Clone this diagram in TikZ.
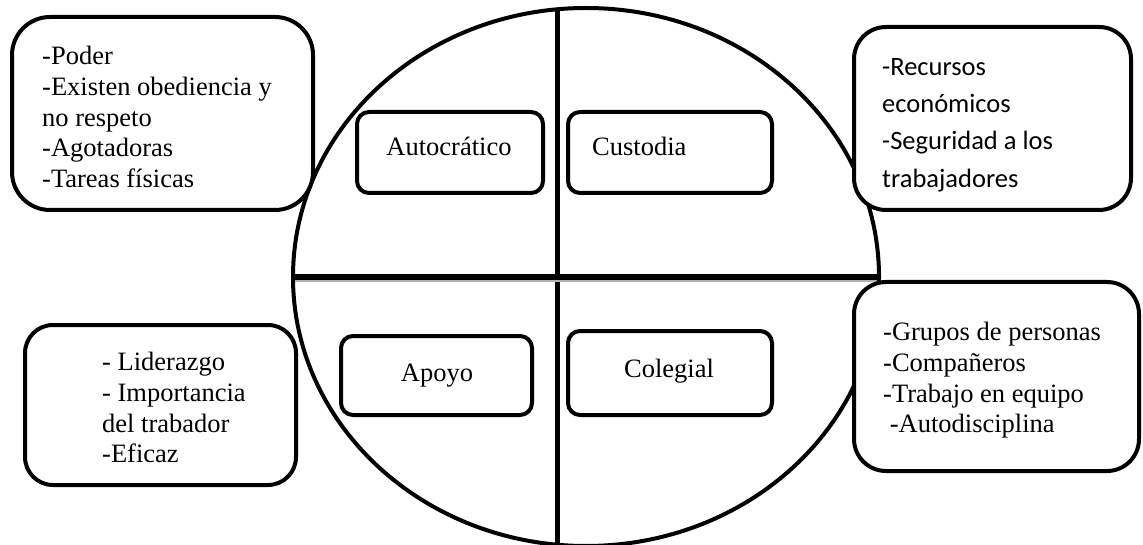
\documentclass[tikz,border=0pt]{standalone}
\usepackage{fontspec}
\setmainfont{Liberation Serif}
\newfontfamily\calibrifont{Carlito}
\usetikzlibrary{shapes.geometric}
\tikzset{
  bigbox/.style={draw, line width=4pt, fill=white, rounded corners=#1, inner sep=0pt},
  bigbox/.default=32pt,
  inbox/.style={draw, line width=4pt, fill=white, rounded corners=12pt, inner sep=0pt},
  txt/.style={inner sep=0pt, align=left, anchor=north west, font=\fontsize{26.5}{30.8}\selectfont},
  ctxt/.style={inner sep=0pt, anchor=base, font=\fontsize{26.5}{30.8}\selectfont},
  divider/.style={line width=#1},
}
\begin{document}
\begin{tikzpicture}[x=1pt,y=-1pt]
\useasboundingbox (0,0) rectangle (1143,545);
% circle and dividers
\node[ellipse, draw, line width=4pt, minimum width=586pt, minimum height=538pt, inner sep=0pt] (circ) at (586,277) {};
\coordinate (vtop) at (557,10);
\coordinate (vbot) at (557,547);
\coordinate (hl) at (293,277);
\coordinate (hr) at (879,277);
\draw[divider=5pt] (vtop) -- (vbot);
\draw[black!30, line width=3pt] (295,281) -- (877,281);
\draw[divider=6pt] (hl) -- (hr);
% outer boxes
\node[bigbox=38pt, minimum width=301pt, minimum height=193pt] (tl) at (162.5,113.5) {};
\node[bigbox=32pt, minimum width=277pt, minimum height=183pt] (tr) at (992.5,118.5) {};
\node[bigbox=28pt, minimum width=271pt, minimum height=160pt] (bl) at (160.5,405) {};
\node[bigbox=32pt, minimum width=285pt, minimum height=189pt] (br) at (996.5,376.5) {};
% inner boxes
\node[inbox, minimum width=186pt, minimum height=81pt] (auto) at (450,152.5) {};
\node[inbox, minimum width=204pt, minimum height=81pt] (cust) at (670,152.5) {};
\node[inbox, minimum width=191pt, minimum height=79pt] (apoy) at (436.5,375.5) {};
\node[inbox, minimum width=204pt, minimum height=84pt] (coleg) at (670,373) {};
% inner labels
\node[ctxt] (tauto) at (449,156) {Autocrático};
\node[ctxt, anchor=base west] (tcust) at (592,156) {Custodia};
\node[ctxt] (tapoy) at (437,381) {Apoyo};
\node[ctxt] (tcoleg) at (669,377) {Colegial};
% outer texts
\node[txt] (ttl) at (42,46) {-Poder\\-Existen obediencia y\\no respeto\\-Agotadoras\\-Tareas físicas};
\node[txt, font=\calibrifont\fontsize{26.5}{37.3}\selectfont] (ttr) at (882,58) {-Recursos\\económicos\\-Seguridad a los\\trabajadores};
\node[txt] (tbl) at (102,352) {- Liderazgo\\- Importancia\\del trabador\\-Eficaz};
\node[txt] (tbr) at (883,322) {-Grupos de personas\\-Compañeros\\-Trabajo en equipo\\\ -Autodisciplina};
\end{tikzpicture}
\end{document}
